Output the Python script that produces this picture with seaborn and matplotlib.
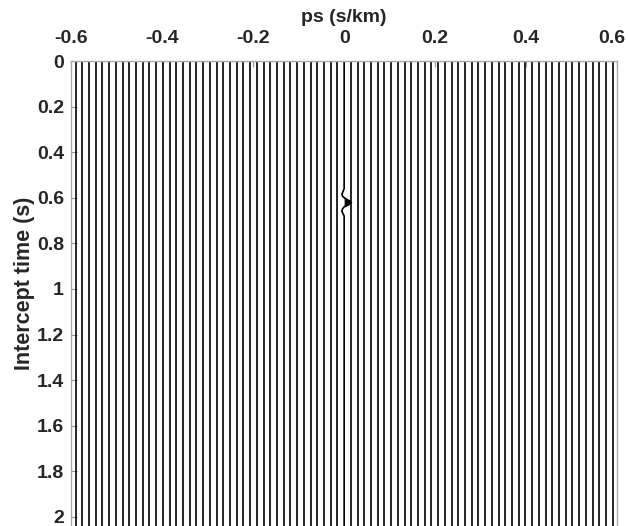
import numpy as np
import pandas as pd
import matplotlib
matplotlib.use("Agg")
import matplotlib.pyplot as plt
import matplotlib.transforms as mtransforms
import seaborn as sns

# Trace positions (ray parameter, s/km) of the tau-p gather
ps_first = -0.59
ps_last = 0.59
n_traces = 81
ps_traces = np.linspace(ps_first, ps_last, n_traces)

# Single event: wavelet on the ps = 0 trace
event_ps = 0.0
wavelet_t = [0.560, 0.575, 0.585, 0.595, 0.605, 0.615, 0.622, 0.630, 0.640, 0.650, 0.658, 0.668, 0.680]
wavelet_amp = [0.000, -0.003, -0.005, -0.003, 0.004, 0.013, 0.016, 0.010, 0.000, -0.004, -0.005, -0.003, 0.000]

t_top = 0.0
t_bottom = 2.04

x_ticks = [-0.6, -0.4, -0.2, 0, 0.2, 0.4, 0.6]
x_ticklabels = ["-0.6", "-0.4", "-0.2", "0", "0.2", "0.4", "0.6"]
y_ticks = [0, 0.2, 0.4, 0.6, 0.8, 1, 1.2, 1.4, 1.6, 1.8, 2]
y_ticklabels = ["0", "0.2", "0.4", "0.6", "0.8", "1", "1.2", "1.4", "1.6", "1.8", "2"]

# Build long-form table of wiggle traces
rows = []
for i, p in enumerate(ps_traces):
    if abs(p - event_ps) < 1e-9:
        ts = [t_top] + list(wavelet_t) + [t_bottom]
        amps = [0.0] + list(wavelet_amp) + [0.0]
    else:
        ts = [t_top, t_bottom]
        amps = [0.0, 0.0]
    for t, a in zip(ts, amps):
        rows.append({"trace": i, "t": t, "x": p + a})
df = pd.DataFrame(rows)

sns.set_theme(style="white")
plt.rcParams["font.family"] = ["Liberation Sans", "DejaVu Sans"]
plt.rcParams["font.weight"] = "bold"

fig = plt.figure(figsize=(6.28, 5.26), dpi=100)
ax = fig.add_axes([0.113, 0.0, 0.870, 0.884])

sns.lineplot(data=df, x="x", y="t", units="trace", estimator=None, sort=False,
             orient="y", color="black", linewidth=1.2, ax=ax, legend=False)

# Variable-area fill of the positive lobe
wt = np.array(wavelet_t)
wa = np.array(wavelet_amp)
ax.fill_betweenx(wt, event_ps, event_ps + wa, where=wa > 0, color="black",
                 interpolate=True, linewidth=0)

ax.set_xlim(-0.6, 0.6)
ax.set_ylim(t_bottom, t_top)
ax.xaxis.tick_top()
ax.xaxis.set_label_position("top")
ax.set_xticks(x_ticks)
ax.set_xticklabels(x_ticklabels)
ax.set_yticks(y_ticks)
ax.set_yticklabels(y_ticklabels)
ax.tick_params(axis="both", labelsize=14, direction="in", length=4, width=0.8,
               color="#999999")
ax.tick_params(axis="x", top=True, bottom=False, pad=10)
ax.tick_params(axis="y", left=True, right=False, pad=5)
ax.set_xlabel("ps (s/km)", fontsize=14, fontweight="bold", labelpad=6)
ax.set_ylabel("Intercept time (s)", fontsize=15.5, fontweight="bold")
ax.yaxis.set_label_coords(-0.066, 0.523)

# keep the right-most top label inside the canvas
last_lbl = ax.get_xticklabels()[-1]
last_lbl.set_transform(last_lbl.get_transform() +
                       mtransforms.ScaledTranslation(-6 / 100, 0, fig.dpi_scale_trans))

for side in ["top", "left", "right"]:
    ax.spines[side].set_color("#aaaaaa")
    ax.spines[side].set_linewidth(1.0)
    ax.spines[side].set_visible(True)
ax.spines["bottom"].set_visible(False)
ax.grid(False)

fig.savefig("out.png", dpi=100, facecolor="white")
